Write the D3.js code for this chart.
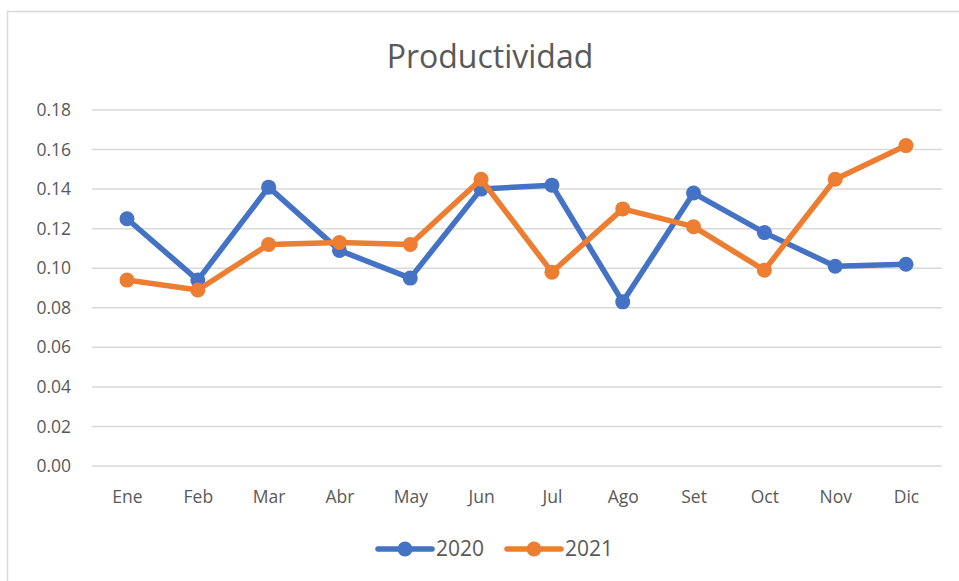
<!DOCTYPE html>
<html><head><meta charset="utf-8">
<script src="https://cdn.jsdelivr.net/npm/d3@7"></script>
<style>body{margin:0;background:#fff;}svg{display:block;font-family:"Open Sans","Noto Sans",sans-serif;}</style>
</head><body><svg id="c" width="959" height="581"></svg>
<script>
const months = ["Ene","Feb","Mar","Abr","May","Jun","Jul","Ago","Set","Oct","Nov","Dic"];
const values2020 = [0.125,0.094,0.141,0.109,0.095,0.140,0.142,0.083,0.138,0.118,0.101,0.102];
const values2021 = [0.094,0.089,0.112,0.113,0.112,0.145,0.098,0.130,0.121,0.099,0.145,0.162];
const yTicks = [0,0.02,0.04,0.06,0.08,0.10,0.12,0.14,0.16,0.18];
const seriesNames = ["2020","2021"];
const colors = ["#4472C4","#ED7D31"];

const svg = d3.select("#c");
// chart frame
svg.append("path").attr("d","M7.5,581 V11.5 H959").attr("fill","none").attr("stroke","#d9d9d9").attr("stroke-width",1.5);

const x = d3.scalePoint().domain(months).range([127,906]);
const y = d3.scaleLinear().domain([0,0.18]).range([466,110]);
const left = 92, right = 942;

svg.append("text").attr("x",490).attr("y",57).attr("dy","0.35em").attr("text-anchor","middle")
  .attr("font-size",32).attr("fill","#595959").text("Productividad");

const yAxis = d3.axisLeft(y).tickValues(yTicks).tickFormat(d3.format(".2f")).tickSize(0).tickPadding(0);
const gy = svg.append("g").attr("transform","translate(71,0)").call(yAxis);
gy.select(".domain").remove();
gy.selectAll("text").attr("font-size",17.5).attr("fill","#595959").attr("font-family","Open Sans, sans-serif");

svg.append("g").selectAll("line").data(yTicks).join("line")
  .attr("x1",left).attr("x2",right).attr("y1",d=>y(d)).attr("y2",d=>y(d))
  .attr("stroke","#d9d9d9").attr("stroke-width",1.5);

const xAxis = d3.axisBottom(x).tickSize(0).tickPadding(0);
const gx = svg.append("g").attr("transform","translate(0,497)").call(xAxis);
gx.select(".domain").remove();
gx.selectAll("text").attr("font-size",17.5).attr("fill","#595959").attr("font-family","Open Sans, sans-serif").attr("dy","0.35em");

const data = [values2020, values2021];
const line = d3.line().x((d,i)=>x(months[i])).y(d=>y(d));
data.forEach((vals,k)=>{
  const g = svg.append("g");
  g.append("path").datum(vals).attr("d",line).attr("fill","none")
    .attr("stroke",colors[k]).attr("stroke-width",5.5).attr("stroke-linejoin","round").attr("stroke-linecap","round");
  g.selectAll("circle").data(vals).join("circle")
    .attr("cx",(d,i)=>x(months[i])).attr("cy",d=>y(d)).attr("r",7.5).attr("fill",colors[k]);
});

// legend
const legX = [378, 507];
seriesNames.forEach((n,k)=>{
  const g = svg.append("g").attr("transform",`translate(${legX[k]},549)`);
  g.append("line").attr("x1",0).attr("x2",54).attr("stroke",colors[k]).attr("stroke-width",5.5).attr("stroke-linecap","round");
  g.append("circle").attr("cx",27).attr("r",7.5).attr("fill",colors[k]);
  g.append("text").attr("x",58).attr("y",0).attr("dy","0.35em").attr("font-size",21).attr("fill","#595959").text(n);
});
</script></body></html>
